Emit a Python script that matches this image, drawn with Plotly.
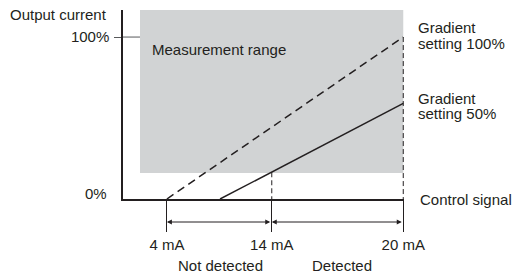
import plotly.graph_objects as go

# ---- data (schematic units: x = control-signal position, y = output %) ----
signal_ticks = [4, 11.1, 20]
signal_labels = ["4 mA", "14 mA", "20 mA"]
grad100_x = [4, 20]
grad100_y = [0, 100]
grad50_x = [7.6, 20]
grad50_y = [0, 59]
range_x = [2.18, 20]
range_y = [16, 116.7]
detect_x = 11.1
detect_y = 16.5
x_range = [1.03, 20.05]
y_range = [0, 116.7]

INK = "#231f20"
TICK = "#58595b"
FONT = dict(family="Liberation Sans, Arial, sans-serif", size=15, color=INK)

fig = go.Figure()

# measurement range box
fig.add_trace(go.Scatter(
    x=[range_x[0], range_x[1], range_x[1], range_x[0], range_x[0]],
    y=[range_y[0], range_y[0], range_y[1], range_y[1], range_y[0]],
    fill="toself", fillcolor="#d1d3d4", line=dict(width=0),
    mode="lines", hoverinfo="skip", showlegend=False))

# inner part of the 100% tick
fig.add_trace(go.Scatter(x=[x_range[0], range_x[0]], y=[100, 100], mode="lines",
                         line=dict(color=TICK, width=1), showlegend=False))

# vertical dashed guides
fig.add_trace(go.Scatter(x=[detect_x, detect_x], y=[detect_y, 0], mode="lines",
                         line=dict(color=INK, width=1, dash="5px,3px"), showlegend=False))
fig.add_trace(go.Scatter(x=[grad100_x[1], grad100_x[1]], y=[grad100_y[1], 0], mode="lines",
                         line=dict(color=INK, width=1, dash="5px,3px"), showlegend=False))

# gradient lines
fig.add_trace(go.Scatter(x=grad100_x, y=grad100_y, mode="lines",
                         line=dict(color=INK, width=1.5, dash="8px,5px"), showlegend=False))
fig.add_trace(go.Scatter(x=grad50_x, y=grad50_y, mode="lines",
                         line=dict(color=INK, width=1.5), showlegend=False))

def px_x(p):
    return (p - 123) / 281

def px_y(p):
    return (199 - p) / 189

ann = []
def text(t, x, y, xanchor, xref="paper", yref="paper"):
    ann.append(dict(text=t, x=x, y=y, xref=xref, yref=yref, xanchor=xanchor,
                    yanchor="middle", showarrow=False, font=FONT))

text("Output current", px_x(109), px_y(14), "right")
text("0%", px_x(109), px_y(193), "right")
text("Measurement range", px_x(150), px_y(49), "left")
text("Gradient", px_x(416), px_y(27), "left")
text("setting 100%", px_x(416), px_y(43), "left")
text("Gradient", px_x(416), px_y(98), "left")
text("setting 50%", px_x(416), px_y(113), "left")
text("Control signal", px_x(418), px_y(199), "left")
text("Not detected", (signal_ticks[0] + signal_ticks[1]) / 2 + 0.1, px_y(265), "center", xref="x")
text("Detected", (signal_ticks[1] + signal_ticks[2]) / 2 + 0.3, px_y(265), "center", xref="x")

# double-headed arrows
for a, b in [(signal_ticks[0], signal_ticks[1]), (signal_ticks[1], signal_ticks[2])]:
    ann.append(dict(text="", x=a, y=px_y(222), xref="x", yref="paper",
                    ax=b, ay=0, axref="x", ayref="pixel",
                    showarrow=True, arrowside="end+start", arrowhead=2, startarrowhead=2,
                    arrowsize=1, startarrowsize=1, arrowwidth=1, arrowcolor=INK,
                    standoff=0, startstandoff=0))

fig.update_layout(
    width=515, height=274,
    margin=dict(l=123, r=111, t=10, b=75),
    paper_bgcolor="white", plot_bgcolor="white",
    font=FONT,
    annotations=ann,
    xaxis=dict(range=x_range, showgrid=False, zeroline=False, showline=True,
               linecolor=INK, linewidth=1.5, ticks="outside", ticklen=31, tickwidth=1,
               tickcolor=INK, tickvals=signal_ticks, ticktext=signal_labels,
               tickfont=FONT, fixedrange=True),
    yaxis=dict(range=y_range, showgrid=False, zeroline=False, showline=True,
               linecolor=INK, linewidth=1.5, ticks="outside", ticklen=7, tickwidth=1,
               tickcolor=TICK, tickvals=[100], ticktext=["100%"], tickfont=FONT,
               ticklabelstandoff=2, fixedrange=True),
)

fig.write_html("out.html", config={"displayModeBar": False},
               post_script="document.body.style.margin='0';document.body.style.overflow='hidden';")
